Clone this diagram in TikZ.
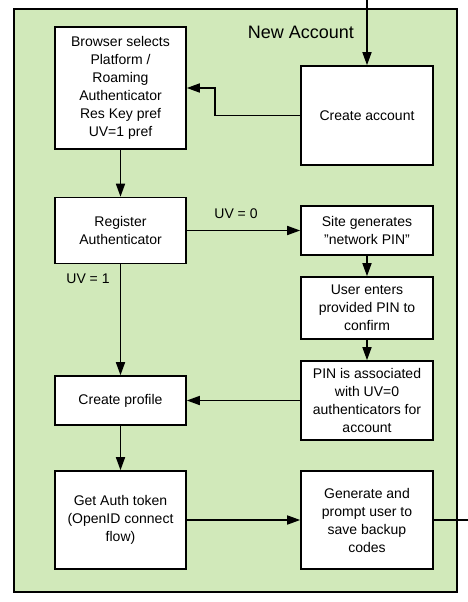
\documentclass[tikz,border=0pt]{standalone}
\usepackage{fontspec}
\setmainfont{Liberation Sans}
\usetikzlibrary{arrows.meta}
\definecolor{grp}{HTML}{D1E9BA}
\tikzset{
  stepbox/.style={draw=black, line width=1.6pt, fill=white, align=center, inner sep=0pt,
    font=\fontsize{14}{18}\selectfont},
  conn/.style={line width=1.6pt, -{Triangle[length=13pt,width=9pt]}},
  lbl/.style={font=\fontsize{14}{18}\selectfont, inner sep=0pt}
}
\begin{document}
\begin{tikzpicture}[x=1pt,y=-1pt]
\useasboundingbox (0,0) rectangle (468,602);
\node[draw=black, line width=2pt, fill=grp, minimum width=443, minimum height=583, inner sep=0pt] (grp) at (235.5,300.5) {};
\node[font=\fontsize{18}{22}\selectfont, inner sep=0pt] (title) at (301,32) {New Account};
\node[stepbox, minimum width=131, minimum height=122] (browser) at (120.5,88) {Browser selects\\Platform /\\Roaming\\Authenticator\\Res Key pref\\UV=1 pref};
\node[stepbox, minimum width=132, minimum height=99] (ca) at (367,115.5) {Create account};
\node[stepbox, minimum width=131, minimum height=66] (reg) at (120.5,230.5) {Register\\Authenticator};
\node[stepbox, minimum width=132, minimum height=49] (site) at (367,230.5) {Site generates\\"network PIN"};
\node[stepbox, minimum width=132, minimum height=62] (user) at (367,308) {User enters\\provided PIN to\\confirm};
\node[stepbox, minimum width=132, minimum height=79] (pin) at (367,400.5) {PIN is associated\\with UV=0\\authenticators for\\account};
\node[stepbox, minimum width=131, minimum height=49] (prof) at (120.5,400.5) {Create profile};
\node[stepbox, minimum width=131, minimum height=98] (auth) at (120.5,520) {Get Auth token\\(OpenID connect\\flow)};
\node[stepbox, minimum width=132, minimum height=98] (gen) at (367,520) {Generate and\\prompt user to\\save backup\\codes};
\node[lbl] (uv0) at (236,214) {UV = 0};
\node[lbl] (uv1) at (88,279) {UV = 1};
\coordinate (in) at (367,-2);
\coordinate (bend) at (215,115.5);
\coordinate (out) at (470,520);
\draw[conn] (in) -- (ca.north);
\draw[conn] (ca.west) -- (bend) |- (browser.east);
\draw[conn] (browser.south) -- (reg.north);
\draw[conn] (reg.east) -- (site.west);
\draw[conn] (site.south) -- (user.north);
\draw[conn] (user.south) -- (pin.north);
\draw[conn] (pin.west) -- (prof.east);
\draw[conn] (reg.south) -- (prof.north);
\draw[conn] (prof.south) -- (auth.north);
\draw[conn] (auth.east) -- (gen.west);
\draw[line width=1.6pt] (gen.east) -- (out);
\end{tikzpicture}
\end{document}
